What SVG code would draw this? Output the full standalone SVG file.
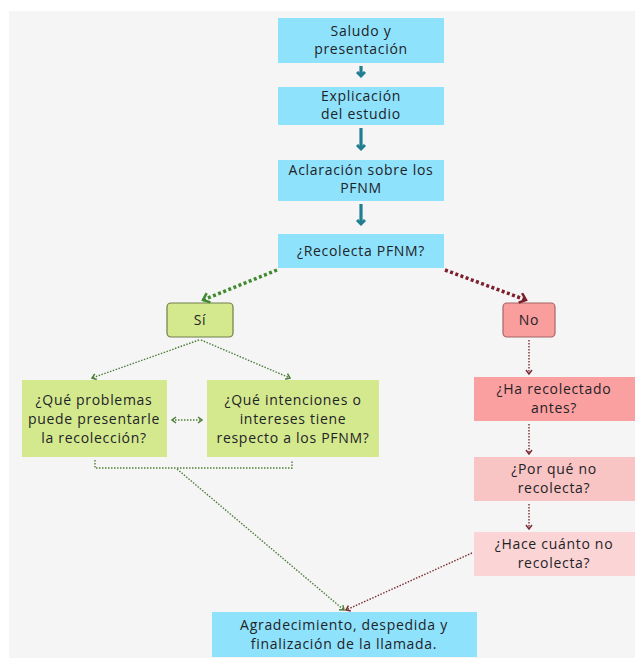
<svg xmlns="http://www.w3.org/2000/svg" width="635" height="658" viewBox="0 0 635 658">
<defs>
<style>
text{font-family:"Open Sans","Noto Sans","Liberation Sans",sans-serif;font-size:14px;letter-spacing:0.7px;fill:#1e2328;text-anchor:middle}
.cyan{fill:#8fe2fb}
.grn{fill:#d4e98e}
.teal{stroke:#1f7f91;stroke-width:3.2;fill:none}
.gdot{stroke:#4f7d3a;stroke-width:1.4;stroke-dasharray:1.5 1.5;fill:none}
.rdot{stroke:#7a2d33;stroke-width:1.4;stroke-dasharray:1.5 1.5;fill:none}
.gthick{stroke:#3f8a2c;stroke-width:3.5;stroke-dasharray:3 2.5;fill:none}
.rthick{stroke:#7a1f2b;stroke-width:3.5;stroke-dasharray:3 2.5;fill:none}
</style>
<marker id="tealHead" markerWidth="10" markerHeight="10" refX="5" refY="5" orient="auto" markerUnits="userSpaceOnUse">
<path d="M1,1 L5,5 L1,9" stroke="#1f7f91" stroke-width="3" fill="none"/>
</marker>
<marker id="gHeadBig" markerWidth="12" markerHeight="12" refX="8" refY="6" orient="auto" markerUnits="userSpaceOnUse">
<path d="M2,1 L8,6 L2,11" stroke="#3f8a2c" stroke-width="2.5" fill="none"/>
</marker>
<marker id="rHeadBig" markerWidth="12" markerHeight="12" refX="8" refY="6" orient="auto" markerUnits="userSpaceOnUse">
<path d="M2,1 L8,6 L2,11" stroke="#7a1f2b" stroke-width="2.5" fill="none"/>
</marker>
<marker id="gHead" markerWidth="8" markerHeight="8" refX="5" refY="4" orient="auto-start-reverse" markerUnits="userSpaceOnUse">
<path d="M1,1 L5,4 L1,7" stroke="#4f7d3a" stroke-width="1.5" fill="none"/>
</marker>
<marker id="rHead" markerWidth="8" markerHeight="8" refX="5" refY="4" orient="auto" markerUnits="userSpaceOnUse">
<path d="M1,1 L5,4 L1,7" stroke="#7a2d33" stroke-width="1.5" fill="none"/>
</marker>
</defs>
<rect x="0" y="0" width="635" height="658" fill="#ffffff"/>
<rect x="9" y="11" width="626" height="647" fill="#f5f5f5"/>

<g id="n-saludo"><rect class="cyan" x="278" y="18" width="166" height="45"/><text x="361" y="36">Saludo y</text><text x="361" y="54">presentación</text></g>
<g id="n-explicacion"><rect class="cyan" x="278" y="87" width="166" height="38"/><text x="361" y="101">Explicación</text><text x="361" y="119">del estudio</text></g>
<g id="n-aclaracion"><rect class="cyan" x="278" y="160" width="166" height="41"/><text x="361" y="175">Aclaración sobre los</text><text x="361" y="193">PFNM</text></g>
<g id="n-recolecta"><rect class="cyan" x="278" y="234" width="166" height="34"/><text x="361" y="256">¿Recolecta PFNM?</text></g>
<g id="n-si"><rect x="167" y="303" width="66" height="34" rx="4" fill="#d4e98e" stroke="#6e7f4a" stroke-width="1.2"/><text x="200" y="325">Sí</text></g>
<g id="n-no"><rect x="503" y="303" width="52" height="34" rx="4" fill="#f99d9d" stroke="#a66565" stroke-width="1.2"/><text x="529" y="325">No</text></g>
<g id="n-problemas"><rect class="grn" x="22" y="380" width="145" height="77"/><text x="94" y="405">¿Qué problemas</text><text x="94" y="424">puede presentarle</text><text x="94" y="443">la recolección?</text></g>
<g id="n-intenciones"><rect class="grn" x="207" y="380" width="172" height="77"/><text x="293" y="405">¿Qué intenciones o</text><text x="293" y="424">intereses tiene</text><text x="293" y="443">respecto a los PFNM?</text></g>
<g id="n-ha"><rect x="474" y="377" width="161" height="44" fill="#faa0a0"/><text x="554" y="394">¿Ha recolectado</text><text x="554" y="413">antes?</text></g>
<g id="n-porque"><rect x="474" y="457" width="161" height="44" fill="#f8c4c4"/><text x="554" y="474">¿Por qué no</text><text x="554" y="493">recolecta?</text></g>
<g id="n-hace"><rect x="474" y="532" width="161" height="44" fill="#fbd5d5"/><text x="554" y="549">¿Hace cuánto no</text><text x="554" y="568">recolecta?</text></g>
<g id="n-final"><rect class="cyan" x="212" y="612" width="265" height="45"/><text x="344" y="630">Agradecimiento, despedida y</text><text x="344" y="649">finalización de la llamada.</text></g>

<g id="connectors">
<line class="teal" x1="361" y1="66" x2="361" y2="76" marker-end="url(#tealHead)"/>
<line class="teal" x1="361" y1="128" x2="361" y2="149" marker-end="url(#tealHead)"/>
<line class="teal" x1="361" y1="204" x2="361" y2="224" marker-end="url(#tealHead)"/>
<line class="gthick" x1="277" y1="270" x2="203" y2="300" marker-end="url(#gHeadBig)"/>
<line class="rthick" x1="445" y1="270" x2="526" y2="300" marker-end="url(#rHeadBig)"/>
<line class="gdot" x1="199" y1="340" x2="92" y2="378" marker-end="url(#gHead)"/>
<line class="gdot" x1="201" y1="340" x2="290" y2="378" marker-end="url(#gHead)"/>
<line class="gdot" x1="172" y1="420" x2="202" y2="420" marker-start="url(#gHead)" marker-end="url(#gHead)"/>
<polyline class="gdot" points="95,460 95,468 292,468 292,460"/>
<line class="gdot" x1="177" y1="469" x2="344" y2="610" marker-end="url(#gHead)"/>
<line class="rdot" x1="472" y1="553" x2="346" y2="610" marker-end="url(#rHead)"/>
<line class="rdot" x1="529" y1="340" x2="529" y2="374" marker-end="url(#rHead)"/>
<line class="rdot" x1="529" y1="424" x2="529" y2="454" marker-end="url(#rHead)"/>
<line class="rdot" x1="529" y1="504" x2="529" y2="529" marker-end="url(#rHead)"/>
</g>
</svg>
